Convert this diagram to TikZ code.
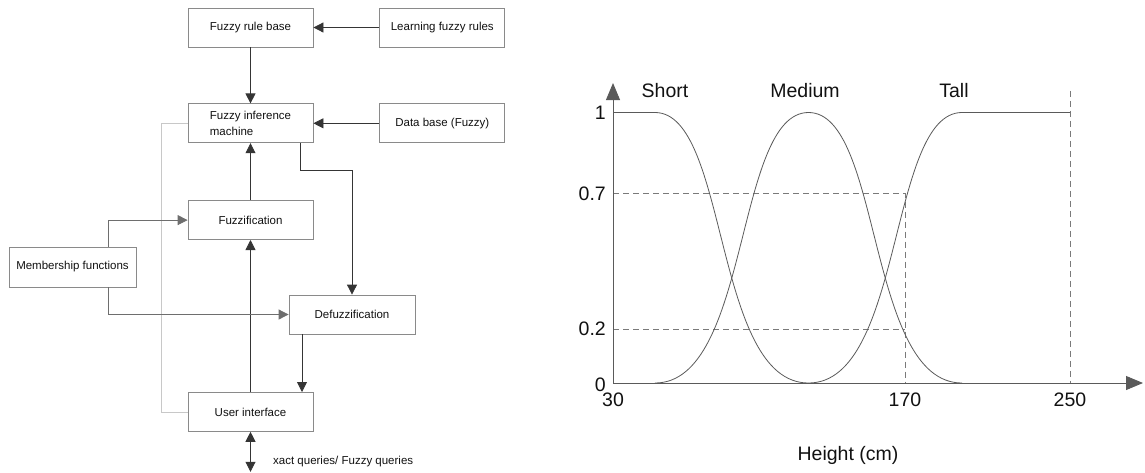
\documentclass[tikz,border=0pt]{standalone}
\usepackage{fontspec}
\setmainfont{Liberation Sans}
\usetikzlibrary{arrows.meta,positioning,calc}
\definecolor{BoxEdge}{HTML}{8A8A8A}
\definecolor{LoopGray}{HTML}{C8C8C8}
\definecolor{MemGray}{HTML}{6E6E6E}
\definecolor{CurveGray}{HTML}{5A5A5A}
\definecolor{DashGray}{HTML}{7A7A7A}
\definecolor{DarkText}{HTML}{111111}
\newcommand{\boxfont}{\fontsize{11.5}{15.5}\selectfont}
\newcommand{\chartfont}{\fontsize{19.5}{22}\selectfont}
\tikzset{
  box/.style={draw=BoxEdge, line width=0.8pt, fill=white, minimum width=125pt, minimum height=39pt, inner sep=1pt, align=center, font=\boxfont, text=DarkText},
  arr/.style={-{Triangle[length=10pt,width=10pt]}, line width=0.8pt, draw=DarkText!85},
  memline/.style={-{Triangle[length=10pt,width=10pt]}, line width=0.8pt, draw=MemGray},
  loopline/.style={line width=0.8pt, draw=LoopGray},
  dblarr/.style={{Triangle[length=10pt,width=10pt]}-{Triangle[length=10pt,width=10pt]}, line width=0.8pt, draw=DarkText!85},
  axisarr/.style={-{Triangle[length=17pt,width=14pt]}, line width=0.9pt, draw=CurveGray},
  curve/.style={line width=0.8pt, draw=CurveGray},
  dashline/.style={line width=0.8pt, draw=DashGray, dash pattern=on 6pt off 4pt},
  lbl/.style={font=\chartfont, text=DarkText, inner sep=0pt}
}
\begin{document}
\begin{tikzpicture}[x=1pt, y=-1pt]
\useasboundingbox (0,0) rectangle (1145,472);

% fuzzy expert system
\node[box] (rb) at (250.5,27.5) {Fuzzy rule base};
\node[box, below=56pt of rb, align=left] (inf) {Fuzzy inference\\machine};
\node[box, below=57pt of inf] (fz) {Fuzzification};
\node[box, below=152pt of fz] (ui) {User interface};
\node[box, right=66pt of rb] (lr) {Learning fuzzy rules};
\node[box, right=66pt of inf] (db) {Data base (Fuzzy)};
\node[box, minimum width=127pt, minimum height=40pt] (mf) at (72.5,267) {Membership functions};
\node[box, minimum width=126pt] (df) at (352,314.5) {Defuzzification};

\draw[loopline] (inf.west) -- ++(-26,0) |- (ui.west);
\draw[arr] (lr) -- (rb);
\draw[arr] (db) -- (inf);
\draw[arr] (rb) -- (inf);
\draw[arr] (fz) -- (inf);
\draw[arr] (ui) -- (fz);
\draw[memline] ([xshift=35.5pt]mf.north) |- (fz.west);
\draw[memline] ([xshift=35.5pt]mf.south) |- (df.west);
\draw[arr] ([xshift=49.5pt]inf.south) -- ++(0,27) -| (df.north);
\draw[arr] ([xshift=-50pt]df.south) -- ([xshift=-50pt]df.south |- ui.north);
\coordinate (q) at ([yshift=-40pt]ui.south);
\draw[dblarr] (ui.south) -- (q);
\node[anchor=west, font=\boxfont, text=DarkText, inner sep=0pt] (ql) at (273,462) {xact queries/ Fuzzy queries};

% membership functions for height
\begin{scope}[shift={(613,383)}, x=1pt, y=270.5pt]
  \draw[dashline] (0,0.7) -- (292,0.7) -- (292,0);
  \draw[dashline] (0,0.2) -- (292,0.2);
  \draw[dashline] (457,1.08) -- (457,0);
  \draw[curve] (0,1) -- (42,1) .. controls (115.7,1) and (100.3,0) .. (195.5,0);
  \draw[curve] (42,0) .. controls (137.2,0) and (121.8,1) .. (195.5,1)
                      .. controls (269.2,1) and (253.8,0) .. (349,0);
  \draw[curve] (195.5,0) .. controls (290.7,0) and (275.3,1) .. (349,1) -- (457,1);
  \draw[axisarr] (0,0) -- (530,0);
  \draw[axisarr] (0,0) -- (0,1.109);
  \node[lbl, anchor=east] (y1) at (-7,1) {1};
  \node[lbl, anchor=east] (y7) at (-7,0.7) {0.7};
  \node[lbl, anchor=east] (y2) at (-7,0.2) {0.2};
  \node[lbl, anchor=east, yshift=-2pt] (y0) at (-7,0) {0};
  \node[lbl, yshift=-17pt] (x30) at (0,0) {30};
  \node[lbl, yshift=-17pt] (x170) at (292,0) {170};
  \node[lbl, yshift=-17pt] (x250) at (457,0) {250};
  \node[lbl, yshift=-72pt] (xt) at (235,0) {Height (cm)};
  \node[lbl, yshift=22pt] (ls) at (52,1) {Short};
  \node[lbl, yshift=22pt] (lm) at (192,1) {Medium};
  \node[lbl, yshift=22pt] (lt) at (341,1) {Tall};
\end{scope}
\end{tikzpicture}
\end{document}
